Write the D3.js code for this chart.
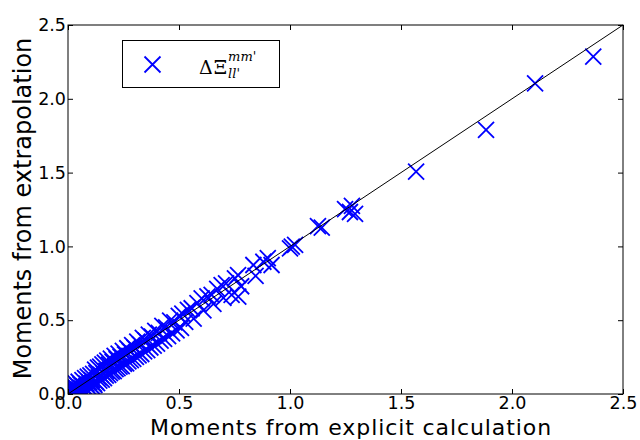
<!DOCTYPE html>
<html>
<head>
<meta charset="utf-8">
<script src="https://cdn.jsdelivr.net/npm/d3@7"></script>
<style>
  body { margin: 0; background: #fff; }
  svg { display: block; }
</style>
</head>
<body>
<svg id="chart" width="640" height="440"></svg>
<script>
// [explicit, extrapolated] pairs
var moments = [
  [0.003,0.004],[0.006,0.021],[0.008,0.0],[0.011,0.038],[0.013,0.012],[0.016,0.052],[0.018,0.003],
  [0.021,0.027],[0.024,0.061],[0.026,0.009],[0.029,0.044],[0.031,0.018],[0.034,0.072],[0.037,0.001],
  [0.04,0.035],[0.042,0.058],[0.045,0.014],[0.048,0.083],[0.05,0.029],[0.053,0.006],[0.056,0.066],
  [0.059,0.041],[0.062,0.012],[0.065,0.094],[0.068,0.024],[0.071,0.052],[0.074,0.017],[0.077,0.108],
  [0.08,0.037],[0.083,0.071],[0.086,0.026],[0.089,0.118],[0.092,0.048],[0.095,0.081],[0.098,0.039],
  [0.101,0.126],[0.104,0.056],[0.107,0.094],[0.11,0.049],[0.113,0.137],[0.116,0.071],[0.119,0.061],
  [0.122,0.165],[0.125,0.083],[0.128,0.141],[0.131,0.074],[0.135,0.178],[0.138,0.112],[0.141,0.09],
  [0.145,0.186],[0.148,0.129],[0.152,0.098],[0.155,0.2],[0.159,0.141],[0.162,0.108],[0.166,0.212],
  [0.17,0.124],[0.173,0.157],[0.177,0.226],[0.181,0.13],[0.185,0.199],[0.189,0.142],[0.193,0.24],
  [0.197,0.152],[0.201,0.218],[0.206,0.155],[0.21,0.259],[0.214,0.168],[0.219,0.236],[0.223,0.175],
  [0.228,0.274],[0.232,0.186],[0.237,0.251],[0.242,0.189],[0.247,0.292],[0.252,0.205],[0.257,0.268],
  [0.262,0.207],[0.267,0.31],[0.272,0.221],[0.278,0.291],[0.283,0.229],[0.289,0.331],[0.294,0.238],
  [0.3,0.312],[0.306,0.251],[0.312,0.355],[0.318,0.262],[0.324,0.336],[0.33,0.271],[0.337,0.381],
  [0.343,0.289],[0.35,0.362],[0.357,0.297],[0.364,0.402],[0.371,0.315],[0.378,0.389],[0.386,0.327],
  [0.393,0.428],[0.401,0.342],[0.409,0.414],[0.417,0.362],[0.425,0.461],[0.433,0.373],[0.442,0.452],
  [0.451,0.392],[0.46,0.497],[0.469,0.41],[0.479,0.485],[0.489,0.431],[0.499,0.53],[0.509,0.448],
  [0.515,0.545],[0.528,0.488],[0.54,0.57],[0.557,0.581],[0.566,0.51],[0.583,0.615],[0.602,0.648],
  [0.61,0.566],[0.628,0.661],[0.647,0.671],[0.655,0.61],[0.672,0.712],[0.692,0.738],[0.70,0.652],
  [0.712,0.75],[0.737,0.671],[0.752,0.784],[0.767,0.659],[0.766,0.806],[0.78,0.73],[0.835,0.874],
  [0.845,0.80],[0.88,0.896],[0.917,0.874],[0.9,0.92],
  [1.0,0.987],[1.008,0.998],[1.023,1.01],[1.126,1.138],[1.143,1.127],
  [1.248,1.253],[1.279,1.274],[1.293,1.22],[1.27,1.233],
  [1.568,1.506],[1.883,1.789],[2.104,2.105],[2.366,2.285]
];

var xTicks = [0.0, 0.5, 1.0, 1.5, 2.0, 2.5];
var yTicks = [0.0, 0.5, 1.0, 1.5, 2.0, 2.5];
var xLabel = "Moments from explicit calculation";
var yLabel = "Moments from extrapolation";

var width = 640, height = 440;
var margin = { top: 25, right: 17, bottom: 46, left: 68 };
var plotW = width - margin.left - margin.right;
var plotH = height - margin.top - margin.bottom;
var blue = "#0000ff";

var svg = d3.select("#chart");
var g = svg.append("g").attr("transform", "translate(" + margin.left + "," + margin.top + ")");

var x = d3.scaleLinear().domain([0, 2.5]).range([0, plotW]);
var y = d3.scaleLinear().domain([0, 2.5]).range([plotH, 0]);

svg.append("defs").append("clipPath").attr("id", "plotClip")
  .append("rect").attr("width", plotW).attr("height", plotH);

var xMark = "M-8,-8L8,8M-8,8L8,-8";

// markers
g.append("g").attr("clip-path", "url(#plotClip)")
  .selectAll("path")
  .data(moments)
  .enter().append("path")
  .attr("transform", function (d) { return "translate(" + x(d[0]) + "," + y(d[1]) + ")"; })
  .attr("d", xMark)
  .attr("fill", "none")
  .attr("stroke", blue)
  .attr("stroke-width", 1.8);

// y = x reference line, drawn on top
g.append("line")
  .attr("x1", x(0)).attr("y1", y(0))
  .attr("x2", x(2.5)).attr("y2", y(2.5))
  .attr("stroke", "#000")
  .attr("stroke-width", 1);

// axes, ticks pointing inward
var fmt = d3.format(".1f");
var tickFont = "'DejaVu Sans', sans-serif";

var xAxis = g.append("g").attr("transform", "translate(0," + plotH + ")")
  .call(d3.axisBottom(x).tickValues(xTicks).tickFormat(fmt).tickSize(-5).tickPadding(3));
var yAxis = g.append("g")
  .call(d3.axisLeft(y).tickValues(yTicks).tickFormat(fmt).tickSize(-5).tickPadding(2));
var topAxis = g.append("g")
  .call(d3.axisTop(x).tickValues(xTicks).tickFormat("").tickSize(-5));
var rightAxis = g.append("g").attr("transform", "translate(" + plotW + ",0)")
  .call(d3.axisRight(y).tickValues(yTicks).tickFormat("").tickSize(-5));

[xAxis, yAxis, topAxis, rightAxis].forEach(function (a) {
  a.select(".domain").remove();
  a.selectAll("line").attr("stroke", "#000");
  a.selectAll("text")
    .attr("fill", "#000")
    .style("font-family", tickFont)
    .style("font-size", "17.5px");
});

g.append("rect")
  .attr("width", plotW).attr("height", plotH)
  .attr("fill", "none").attr("stroke", "#000").attr("stroke-width", 1);

// axis labels
svg.append("text")
  .attr("x", 351)
  .attr("y", 434.5)
  .attr("text-anchor", "middle")
  .style("font-family", tickFont)
  .style("font-size", "22px")
  .style("letter-spacing", "0.9px")
  .text(xLabel);

svg.append("text")
  .attr("transform", "translate(31," + (margin.top + plotH / 2 - 1) + ") rotate(-90)")
  .attr("text-anchor", "middle")
  .style("font-family", tickFont)
  .style("font-size", "24px")
  .text(yLabel);

// legend
var legend = svg.append("g");
legend.append("rect")
  .attr("x", 122.5).attr("y", 40.5).attr("width", 157).attr("height", 47)
  .attr("fill", "#fff").attr("stroke", "#000").attr("stroke-width", 1);
legend.append("path")
  .attr("transform", "translate(152.5,64.5)")
  .attr("d", xMark)
  .attr("fill", "none").attr("stroke", blue).attr("stroke-width", 1.8);

var serif = "'DejaVu Serif', 'Liberation Serif', serif";
var sym = legend.append("text")
  .attr("x", 199).attr("y", 73.5)
  .style("font-family", serif).style("font-size", "19px")
  .style("letter-spacing", "1px")
  .text("ΔΞ");
var symEnd = 199 + sym.node().getComputedTextLength();
legend.append("text")
  .attr("x", symEnd).attr("y", 61)
  .style("font-family", serif).style("font-style", "italic").style("font-size", "13px")
  .text("mm'");
legend.append("text")
  .attr("x", symEnd).attr("y", 78)
  .style("font-family", serif).style("font-style", "italic").style("font-size", "13px")
  .text("ll'");
</script>
</body>
</html>
